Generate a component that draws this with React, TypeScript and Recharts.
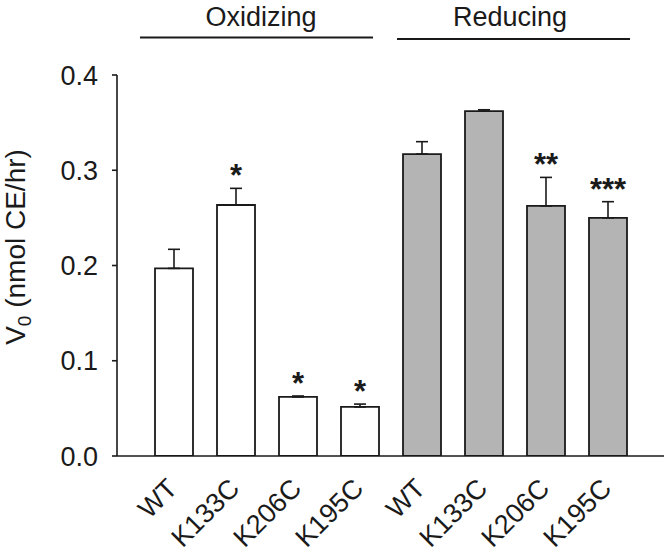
import React from 'react';
import { ComposedChart, Bar, XAxis, YAxis, ErrorBar, Cell, Scatter } from 'recharts';

const categories = ['WT', 'K133C', 'K206C', 'K195C', 'WT', 'K133C', 'K206C', 'K195C'];
const conditions = ['Oxidizing', 'Oxidizing', 'Oxidizing', 'Oxidizing', 'Reducing', 'Reducing', 'Reducing', 'Reducing'];
const values = [0.197, 0.2635, 0.062, 0.0515, 0.317, 0.362, 0.2625, 0.25];
const errors = [0.02, 0.0175, 0.001, 0.003, 0.013, 0.0015, 0.03, 0.017];
const significance = ['', '*', '*', '*', '', '', '**', '***'];
const yTicks = [0, 0.1, 0.2, 0.3, 0.4];
const groupLabels = ['Oxidizing', 'Reducing'];

const FONT = '"Liberation Sans", Arial, sans-serif';
const INK = '#1a1a1a';
const fills: Record<string, string> = { Oxidizing: '#ffffff', Reducing: '#b4b4b4' };

const data = categories.map((name, i) => ({
  id: `${conditions[i]}-${name}`,
  name,
  condition: conditions[i],
  value: values[i],
  err: [0, errors[i]],
  sig: significance[i],
  starY: significance[i] ? values[i] + errors[i] : null,
}));

const XTick = (props: any) => {
  const { x, y, payload } = props;
  const label = categories[payload.index] ?? '';
  const ax = x + 5;
  const ay = y + 26;
  return (
    <text
      x={ax}
      y={ay}
      transform={`rotate(-45, ${ax}, ${ay})`}
      textAnchor="end"
      fontSize={27}
      fontFamily={FONT}
      fill={INK}
    >
      {label}
    </text>
  );
};

const YLabel = () => (
  <text
    x={25}
    y={247}
    transform="rotate(-90, 25, 247)"
    textAnchor="middle"
    fontSize={28}
    fontFamily={FONT}
    fill={INK}
  >
    <tspan>V</tspan>
    <tspan fontSize={19} dy={6}>0</tspan>
    <tspan dy={-6}> (nmol CE/hr)</tspan>
  </text>
);

const StarShape = (props: any) => {
  const { cx, cy, payload } = props;
  if (!payload || !payload.sig || cx == null || cy == null || isNaN(cy)) return <g />;
  return (
    <text x={cx} y={cy - 2} textAnchor="middle" fontSize={31} fontWeight="bold" fontFamily={FONT} fill={INK}>
      {payload.sig}
    </text>
  );
};

const headerLines = [
  { label: groupLabels[0], x1: 140, x2: 373, ly: 37.5, tx: 261 },
  { label: groupLabels[1], x1: 397, x2: 630, ly: 39, tx: 510 },
];

export default function App() {
  return (
    <div style={{ position: 'absolute', left: 0, top: 0, width: 667, height: 548, background: '#fff' }}>
      <ComposedChart
        width={667}
        height={548}
        data={data}
        margin={{ top: 75, right: 3, left: 0, bottom: 0 }}
      >
        <XAxis
          dataKey="id"
          type="category"
          height={92}
          padding={{ left: 26, right: 25 }}
          tickLine={false}
          axisLine={{ stroke: INK, strokeWidth: 1.6 }}
          tick={<XTick />}
          interval={0}
        />
        <YAxis
          width={117}
          domain={[0, 0.4]}
          ticks={yTicks}
          tickFormatter={(v: number) => v.toFixed(1)}
          tick={{ fontSize: 27, fontFamily: FONT, fill: INK }}
          tickSize={5}
          tickMargin={14}
          axisLine={{ stroke: INK, strokeWidth: 1.6 }}
          tickLine={{ stroke: INK, strokeWidth: 1.6 }}
          label={{ content: <YLabel /> }}
          allowDataOverflow
        />
        <Bar dataKey="value" barSize={38} stroke={INK} strokeWidth={1.8} isAnimationActive={false}>
          {data.map((d) => (
            <Cell key={d.id} fill={fills[d.condition]} />
          ))}
          <ErrorBar dataKey="err" direction="y" width={6} stroke={INK} strokeWidth={1.6} />
        </Bar>
        <Scatter dataKey="starY" shape={<StarShape />} isAnimationActive={false} />
      </ComposedChart>
      <svg
        width={667}
        height={60}
        style={{ position: 'absolute', left: 0, top: 0, pointerEvents: 'none' }}
      >
        {headerLines.map((h) => (
          <g key={h.label}>
            <text x={h.tx} y={26} textAnchor="middle" fontSize={27} fontFamily={FONT} fill={INK}>
              {h.label}
            </text>
            <line x1={h.x1} x2={h.x2} y1={h.ly} y2={h.ly} stroke={INK} strokeWidth={2.2} />
          </g>
        ))}
      </svg>
    </div>
  );
}
